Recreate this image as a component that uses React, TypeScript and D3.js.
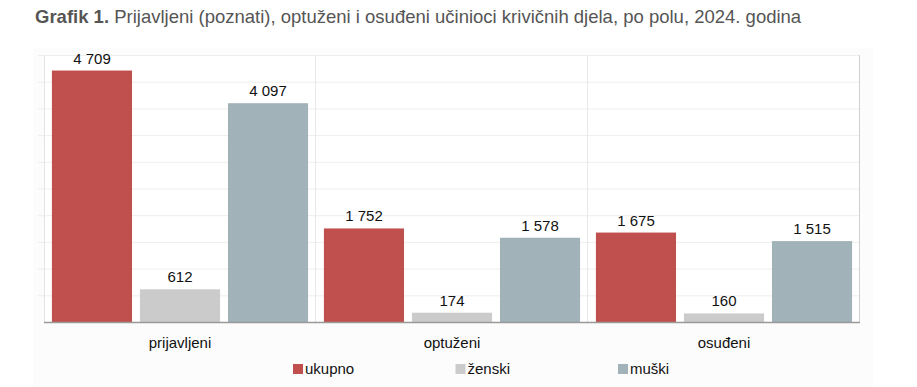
import { useEffect, useRef } from 'react';
import * as d3 from 'd3';

const categories = ['prijavljeni', 'optuženi', 'osuđeni'];
const seriesNames = ['ukupno', 'ženski', 'muški'];
const ukupno = [4709, 1752, 1675];
const zenski = [612, 174, 160];
const muski = [4097, 1578, 1515];
const seriesColors = ['#c0504d', '#cbcbcb', '#a1b3b8'];
const yTicks = d3.range(0, 5001, 500);

export default function App() {
  const svgRef = useRef<SVGSVGElement>(null);

  useEffect(() => {
    if (!svgRef.current) return;
    const svg = d3.select(svgRef.current);
    svg.selectAll('*').remove();

    const width = 917;
    const height = 387;
    const margin = { top: 55, right: 57, bottom: 65, left: 44 };
    const font = '"Liberation Sans", Arial, sans-serif';

    // background, the chart box is barely off-white
    svg.append('rect').attr('width', width).attr('height', height).attr('fill', '#ffffff');
    svg.append('rect')
      .attr('x', 33).attr('y', 48).attr('width', 840).attr('height', height - 48)
      .attr('fill', '#fcfcfc');

    // title
    const title = svg.append('text')
      .attr('x', 35).attr('y', 23)
      .attr('font-family', font).attr('font-size', 18.5).attr('fill', '#555555');
    title.append('tspan').attr('font-weight', 'bold').text('Grafik 1.');
    title.append('tspan').text(' Prijavljeni (poznati), optuženi i osuđeni učinioci krivičnih djela, po polu, 2024. godina');

    const x0 = d3.scaleBand<string>()
      .domain(categories)
      .range([margin.left, width - margin.right]);

    const x1 = d3.scaleBand<string>()
      .domain(seriesNames)
      .range([0, x0.bandwidth()])
      .paddingInner(0.09)
      .paddingOuter(0.09);

    const y = d3.scaleLinear()
      .domain([0, 5000])
      .range([height - margin.bottom, margin.top]);

    // plot area
    svg.append('rect')
      .attr('x', margin.left).attr('y', margin.top)
      .attr('width', width - margin.right - margin.left)
      .attr('height', y(0) - margin.top)
      .attr('fill', '#ffffff');

    // grid
    svg.append('g')
      .selectAll('line')
      .data(yTicks.slice(1))
      .join('line')
      .attr('x1', margin.left - 6).attr('x2', width - margin.right)
      .attr('y1', d => y(d) + 0.5).attr('y2', d => y(d) + 0.5)
      .attr('stroke', '#eeeeee');

    // category separators
    svg.append('g')
      .selectAll('line')
      .data(categories)
      .join('line')
      .attr('x1', d => Math.round(x0(d)! + x0.bandwidth()) - 0.5)
      .attr('x2', d => Math.round(x0(d)! + x0.bandwidth()) - 0.5)
      .attr('y1', margin.top).attr('y2', y(0))
      .attr('stroke', d => d === categories[categories.length - 1] ? '#d0d0d0' : '#e8e8e8');

    // y axis line
    svg.append('line')
      .attr('x1', margin.left + 0.5).attr('x2', margin.left + 0.5)
      .attr('y1', margin.top).attr('y2', y(0))
      .attr('stroke', '#e4e4e4');

    const values = [ukupno, zenski, muski];
    const data = categories.flatMap((c, i) =>
      seriesNames.map((s, j) => ({ cat: c, series: s, value: values[j][i], color: seriesColors[j] })));

    svg.append('g')
      .selectAll('rect')
      .data(data)
      .join('rect')
      .attr('x', d => x0(d.cat)! + x1(d.series)!)
      .attr('width', x1.bandwidth())
      .attr('y', d => y(d.value))
      .attr('height', d => y(0) - y(d.value))
      .attr('fill', d => d.color);

    svg.append('g')
      .selectAll('text')
      .data(data)
      .join('text')
      .attr('x', d => x0(d.cat)! + x1(d.series)! + x1.bandwidth() / 2)
      .attr('y', d => y(d.value) - 7)
      .attr('text-anchor', 'middle')
      .attr('font-family', font).attr('font-size', 15).attr('fill', '#111111')
      .text(d => d3.format(',')(d.value).replace(/,/g, ' '));

    // x axis line
    svg.append('line')
      .attr('x1', margin.left).attr('x2', width - margin.right)
      .attr('y1', y(0) + 0.5).attr('y2', y(0) + 0.5)
      .attr('stroke', '#999999').attr('stroke-width', 1.5);

    // category labels
    svg.append('g')
      .selectAll('text')
      .data(categories)
      .join('text')
      .attr('x', d => x0(d)! + x0.bandwidth() / 2)
      .attr('y', y(0) + 26)
      .attr('text-anchor', 'middle')
      .attr('font-family', font).attr('font-size', 15).attr('fill', '#111111')
      .text(d => d);

    // legend
    const legendX = d3.scalePoint<string>()
      .domain(seriesNames)
      .range([293, 618]);
    const legend = svg.append('g')
      .selectAll('g')
      .data(seriesNames)
      .join('g')
      .attr('transform', d => `translate(${legendX(d)},${height - 18})`);
    legend.append('rect')
      .attr('width', 10).attr('height', 10).attr('y', -5)
      .attr('fill', (_, i) => seriesColors[i]);
    legend.append('text')
      .attr('x', 12).attr('y', 5)
      .attr('font-family', font).attr('font-size', 15).attr('fill', '#111111')
      .text(d => d);
  }, []);

  return (
    <svg
      ref={svgRef}
      width={917}
      height={387}
      style={{ position: 'absolute', left: 0, top: 0 }}
    ></svg>
  );
}
